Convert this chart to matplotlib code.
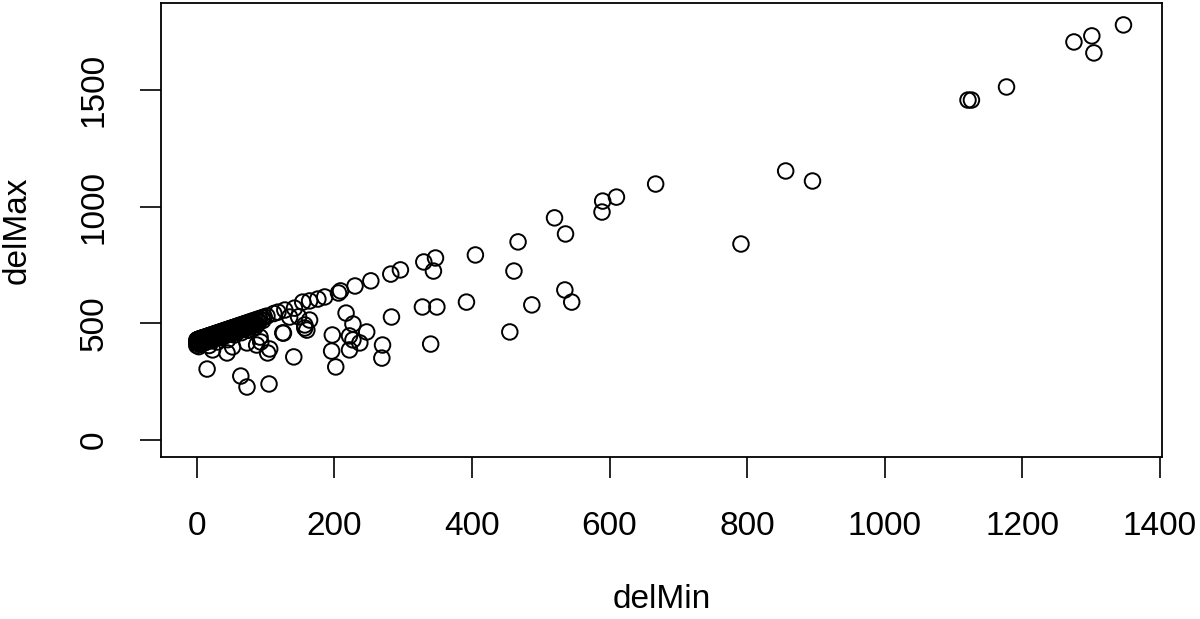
import matplotlib
matplotlib.use("Agg")
import matplotlib.pyplot as plt

plt.rcParams["font.family"] = ["Liberation Sans", "DejaVu Sans"]

# dense band near the origin (delMax ~ delMin + 430)
band_min = [0, 0, 1, 2, 3, 4, 5, 6, 7, 8, 9, 10, 12, 13, 15, 16, 18, 20, 21, 23,
            25, 27, 28, 30, 32, 34, 36, 38, 40, 42, 44, 46, 48, 50, 52, 55, 57, 60,
            62, 65, 68, 70, 73, 76, 79, 82, 85, 88, 91, 95, 98, 102, 112, 118,
            1, 4, 8, 11, 14, 17, 22, 26, 29, 33, 37, 41, 45, 49, 53, 58, 63, 67,
            72, 78, 84, 90, 96, 2, 6, 12, 19, 24, 31, 39, 47, 56, 66, 75, 87]
band_max = [428, 420, 430, 431, 432, 433, 434, 435, 436, 437, 438, 439, 441, 442,
            444, 445, 447, 449, 450, 452, 454, 456, 457, 459, 461, 463, 465, 467,
            469, 471, 473, 475, 477, 479, 481, 484, 486, 489, 491, 494, 497, 499,
            502, 505, 508, 511, 514, 517, 520, 524, 527, 531, 542, 548,
            418, 421, 426, 428, 431, 434, 438, 443, 446, 449, 453, 457, 461, 465,
            469, 474, 479, 483, 488, 494, 500, 506, 512, 412, 415, 422, 428, 433,
            440, 448, 455, 464, 474, 483, 495]

# points just below the band
low_min = [0, 3, 6, 10, 14, 18, 22, 26, 30, 35, 40, 45, 50, 55, 60, 65, 70, 75, 80, 85, 90]
low_max = [405, 400, 410, 415, 420, 405, 425, 435, 420, 440, 445, 430, 455, 450,
           465, 460, 478, 470, 490, 485, 505]

# scattered points
other_min = [1347, 1275, 1301, 1304, 1177, 1121, 1126, 856, 895, 791,
             667, 590, 610, 589, 520, 536, 467, 405, 461, 535, 545, 487, 392, 455,
             347, 330, 344, 296, 282, 253, 230, 209, 206, 186, 176, 164, 154, 328,
             349, 283, 217, 227, 247, 197, 222, 237, 222, 196, 270, 269, 202, 340,
             164, 157, 15, 64, 73, 105, 141, 126, 106, 103, 93, 157,
             142, 128, 148, 135, 125, 160, 23, 44, 52, 73, 92, 87, 227]
other_max = [1779, 1706, 1732, 1659, 1513, 1457, 1457, 1153, 1110, 840,
             1097, 1024, 1041, 977, 952, 883, 849, 793, 724, 643, 591, 579, 591, 463,
             780, 763, 724, 729, 711, 682, 660, 639, 630, 613, 604, 596, 591, 570,
             570, 527, 544, 497, 463, 450, 446, 416, 386, 381, 407, 351, 313, 411,
             514, 480, 304, 274, 227, 240, 356, 458, 390, 373, 420, 493,
             565, 557, 528, 527, 459, 471, 386, 373, 399, 416, 441, 407, 429]

del_min = band_min + low_min + other_min
del_max = band_max + low_max + other_max

W, H = 1200, 619
fig = plt.figure(figsize=(W / 100, H / 100), dpi=100)
left, right, top, bottom = 161, 1162, 3, 457
ax = fig.add_axes([left / W, 1 - bottom / H, (right - left) / W, (bottom - top) / H])

ax.scatter(del_min, del_max, s=125, facecolors="none", edgecolors="black", linewidths=1.4)

ax.set_xlim(-52, 1403)
ax.set_ylim(-73, 1873)
ax.set_xticks(range(0, 1401, 200))
ax.set_yticks([0, 500, 1000, 1500])

for sp in ax.spines.values():
    sp.set_linewidth(1.3)

ax.tick_params(axis="both", length=15, width=1.2, labelsize=24, direction="out")
ax.tick_params(axis="x", pad=24)
ax.tick_params(axis="y", pad=22)
for lab in ax.get_yticklabels():
    lab.set_rotation(90)
    lab.set_va("center")

ax.set_xlabel("delMin", fontsize=24)
ax.set_ylabel("delMax", fontsize=24)
ax.xaxis.set_label_coords(0.5, -143 / (bottom - top))
ax.xaxis.label.set_va("center")
ax.yaxis.set_label_coords(-144 / (right - left), 0.5)
ax.yaxis.label.set_va("center")

fig.savefig("out.png", dpi=100)
